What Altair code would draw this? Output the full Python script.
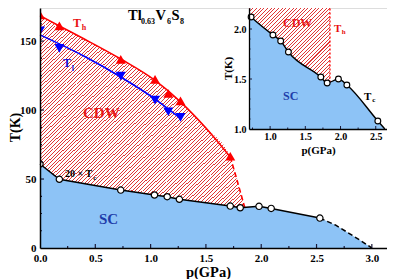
import altair as alt
import pandas as pd

# ---------------- data ----------------
# main panel: 20 x Tc (K) versus pressure (GPa)
tc_p = [0.0, 0.175, 0.73, 1.035, 1.15, 1.26, 1.72, 1.81, 1.98, 2.09, 2.53]
tc20 = [60.9, 49.8, 42.0, 38.4, 37.2, 35.3, 30.4, 29.2, 30.2, 28.7, 21.7]
tc_tail_p = [2.53, 2.67, 2.77, 2.89, 3.0]
tc_tail = [21.7, 16.7, 11.8, 5.8, 0.0]

# CDW onset T_h (up triangles) and its guide curve
th_p = [0.0, 0.175, 0.73, 1.04, 1.16, 1.27, 1.72]
th_T = [169.0, 161.0, 136.7, 122.2, 112.0, 106.7, 66.5]
th_fit_p = [0.0, 0.175, 0.4, 0.73, 1.04, 1.27, 1.5, 1.72]
th_fit_T = [168.5, 161.0, 151.5, 137.0, 121.5, 106.0, 87.0, 66.0]
th_tail_p = [1.72, 1.78, 1.85]
th_tail_T = [66.0, 49.5, 29.5]

# T_l (down triangles) and its guide curve
tl_p = [0.0, 0.175, 0.73, 1.04, 1.16, 1.27]
tl_T = [157.5, 144.7, 124.6, 107.2, 98.8, 94.7]
tl_fit_p = [0.0, 0.4, 0.73, 1.04, 1.27]
tl_fit_T = [154.5, 139.0, 124.0, 108.0, 94.0]

# inset: Tc (K) versus pressure
in_p = [0.73, 1.04, 1.15, 1.26, 1.72, 1.81, 1.97, 2.09, 2.53]
in_tc = [2.12, 1.94, 1.88, 1.77, 1.52, 1.46, 1.50, 1.44, 1.08]
in_line_p = [0.70] + in_p + [2.63]
in_line_tc = [2.14] + in_tc + [1.00]
in_th_p = 1.85          # CDW boundary in the inset
in_th_low = 1.465

# axis ranges / tick values
main_xdom = [0, 3.137]
main_ydom = [0, 174]
in_xdom = [0.7, 2.66]
in_ydom = [1.0, 2.21]
main_xticks = [0.0, 0.5, 1.0, 1.5, 2.0, 2.5, 3.0]
main_yticks = [0, 50, 100, 150]
main_xminor = [0.25, 0.75, 1.25, 1.75, 2.25, 2.75]
main_yminor = [12.5, 25, 37.5, 62.5, 75, 87.5, 112.5, 125, 137.5, 162.5]
in_xticks = [1.0, 1.5, 2.0, 2.5]
in_yticks = [1.0, 1.5, 2.0]
in_xminor = [0.75, 1.25, 1.75, 2.25]
in_yminor = [1.1, 1.2, 1.3, 1.4, 1.6, 1.7, 1.8, 1.9, 2.1, 2.2]

# ---------------- layout / style ----------------
W, H = 347, 240
IN_L, IN_R, IN_B = 209, 347, 121
FONT = "Liberation Serif"
BLUE_FILL = "#8dc3f6"
RED = "#ff0000"
TICK = "#1a1a3a"
PX_MAIN = W / (main_xdom[1] - main_xdom[0])
PX_IN = (IN_R - IN_L) / (in_xdom[1] - in_xdom[0])


def hatch(w, h, period=2.6, frac=0.28, color="#e03838"):
    k = w / (w * w + h * h)
    dt = k * period * 2 ** 0.5
    stops, t = [], 0.0
    while t < 1.0:
        b = min(t + frac * dt, 1.0)
        c = min(t + dt, 1.0)
        stops += [{"offset": round(t, 5), "color": color},
                  {"offset": round(b, 5), "color": color},
                  {"offset": round(b, 5), "color": "#ffffff"},
                  {"offset": round(c, 5), "color": "#ffffff"}]
        t += dt
    return {"gradient": "linear", "x1": 0, "y1": 0, "x2": 1, "y2": h / w, "stops": stops}


xs_main = alt.Scale(domain=main_xdom, nice=False, zero=False)
ys_main = alt.Scale(domain=main_ydom, nice=False, zero=False)
xs_in = alt.Scale(domain=in_xdom, range=[IN_L, IN_R], nice=False, zero=False)
ys_in = alt.Scale(domain=in_ydom, range=[IN_B, 0], nice=False, zero=False)

lab = dict(labelFont=FONT, labelFontWeight="bold", labelColor="black",
           titleFont=FONT, titleFontWeight="bold", titleColor="black",
           grid=False, ticks=False, tickSize=0, domainColor="black",
           labelFlush=False, labelOverlap=False, zindex=1)

ax_mx = alt.Axis(orient="bottom", values=main_xticks, format=".1f", labelFontSize=11,
                 labelPadding=4, domainWidth=1.5, title="p(GPa)", titleFontSize=14.5,
                 titleX=168, titleY=28, titleAlign="center", titleBaseline="alphabetic", **lab)
ax_my = alt.Axis(orient="left", values=main_yticks, format="d", labelFontSize=11,
                 labelPadding=4, domainWidth=1.5, title="T(K)", titleFontSize=14,
                 titleX=-25, titleY=119, titleAngle=270, titleAlign="center",
                 titleBaseline="middle", **lab)
ax_ix = alt.Axis(orient="bottom", offset=-(H - IN_B), values=in_xticks, format=".1f",
                 labelFontSize=10, labelPadding=2, domainWidth=1.3, title="p(GPa)",
                 titleFontSize=11, titleX=278, titleY=24, titleAlign="center",
                 titleBaseline="alphabetic", **lab)
ax_iy = alt.Axis(orient="left", offset=-IN_L, values=in_yticks, format=".1f",
                 labelFontSize=10, labelPadding=3, domainWidth=1.3, title="T(K)",
                 titleFontSize=11, titleX=-21, titleY=60, titleAngle=270,
                 titleAlign="center", titleBaseline="middle", **lab)


def MX(f): return alt.X(f, type="quantitative", scale=xs_main, axis=ax_mx)
def MY(f): return alt.Y(f, type="quantitative", scale=ys_main, axis=ax_my)
def IX(f): return alt.X(f, type="quantitative", scale=xs_in, axis=ax_ix)
def IY(f): return alt.Y(f, type="quantitative", scale=ys_in, axis=ax_iy)


# ---------------- main panel ----------------
th_area = pd.DataFrame({"p": th_fit_p + th_tail_p[1:], "T": th_fit_T + th_tail_T[1:]})
th_area["b"] = 0.0
tc_all = pd.DataFrame({"p": tc_p + tc_tail_p[1:], "T": tc20 + tc_tail[1:]})
tc_all["b"] = 0.0

hatch_main = alt.Chart(th_area).mark_area(
    interpolate="monotone", fill=hatch(max(th_tail_p) * PX_MAIN, H)
).encode(x=MX("p"), y=MY("T"), y2="b")
sc_area = alt.Chart(tc_all).mark_area(color=BLUE_FILL).encode(x=MX("p"), y=MY("T"), y2="b")

th_line = alt.Chart(pd.DataFrame({"p": th_fit_p, "T": th_fit_T})).mark_line(
    interpolate="monotone", color=RED, strokeWidth=1.6).encode(x=MX("p"), y=MY("T"))
th_dash = alt.Chart(pd.DataFrame({"p": th_tail_p, "T": th_tail_T})).mark_line(
    interpolate="monotone", color=RED, strokeWidth=1.6, strokeDash=[5, 3]).encode(x=MX("p"), y=MY("T"))
tl_line = alt.Chart(pd.DataFrame({"p": tl_fit_p, "T": tl_fit_T})).mark_line(
    interpolate="monotone", color="#0000ff", strokeWidth=1.6).encode(x=MX("p"), y=MY("T"))
tc_line = alt.Chart(pd.DataFrame({"p": tc_p, "T": tc20})).mark_line(
    color="black", strokeWidth=1.5).encode(x=MX("p"), y=MY("T"))
tc_dash = alt.Chart(pd.DataFrame({"p": tc_tail_p, "T": tc_tail})).mark_line(
    color="black", strokeWidth=1.5, strokeDash=[5, 3]).encode(x=MX("p"), y=MY("T"))

th_pts = alt.Chart(pd.DataFrame({"p": th_p, "T": th_T})).mark_point(
    shape="triangle-up", filled=True, color=RED, size=100, opacity=1, clip=True
).encode(x=MX("p"), y=MY("T"))
tl_pts = alt.Chart(pd.DataFrame({"p": tl_p, "T": tl_T})).mark_point(
    shape="triangle-down", filled=True, color="#0000ff", size=100, opacity=1, clip=True
).encode(x=MX("p"), y=MY("T"))
tc_pts = alt.Chart(pd.DataFrame({"p": tc_p, "T": tc20})).mark_point(
    shape="circle", filled=True, fill="white", stroke="black", strokeWidth=1.2,
    size=40, opacity=1, clip=True).encode(x=MX("p"), y=MY("T"))


def texts(rows, size, color, xf, yf):
    df = pd.DataFrame(rows, columns=["t", "p", "T"])
    return alt.Chart(df).mark_text(align="left", baseline="alphabetic", font=FONT,
                                   fontWeight="bold", fontSize=size, color=color
                                   ).encode(x=xf("p"), y=yf("T"), text="t")


main_txt = [
    texts([("Tl", 0.796, 165.6), ("V", 1.045, 165.6), ("S", 1.189, 165.6)], 14.5, "black", MX, MY),
    texts([("0.63", 0.913, 162.2), ("6", 1.148, 162.2), ("8", 1.266, 162.2)], 8, "black", MX, MY),
    texts([("T", 0.298, 160.2)], 12, "#e81010", MX, MY),
    texts([("h", 0.377, 158.1)], 8, "#e81010", MX, MY),
    texts([("CDW", 0.389, 94.25)], 15, "#e81818", MX, MY),
    texts([("T", 0.208, 131.2)], 12, "#1010e0", MX, MY),
    texts([("l", 0.287, 128.3)], 8, "#1010e0", MX, MY),
    texts([("20 × T", 0.226, 51.5)], 10, "black", MX, MY),
    texts([("c", 0.481, 49.3)], 7, "black", MX, MY),
    texts([("SC", 0.533, 17.4)], 15, "#1e3caa", MX, MY),
]

mx_major = alt.Chart(pd.DataFrame({"v": main_xticks[1:]})).mark_rule(color=TICK, strokeWidth=1.2).encode(
    x=MX("v"), y=alt.value(H), y2=alt.value(H - 4))
mx_minor = alt.Chart(pd.DataFrame({"v": main_xminor})).mark_rule(color=TICK, strokeWidth=1.2).encode(
    x=MX("v"), y=alt.value(H), y2=alt.value(H - 2))
my_major = alt.Chart(pd.DataFrame({"v": main_yticks[1:]})).mark_rule(color=TICK, strokeWidth=1.2).encode(
    y=MY("v"), x=alt.value(0), x2=alt.value(4))
my_minor = alt.Chart(pd.DataFrame({"v": main_yminor})).mark_rule(color=TICK, strokeWidth=1.2).encode(
    y=MY("v"), x=alt.value(0), x2=alt.value(2))

main = alt.layer(hatch_main, sc_area, th_line, th_dash, tl_line, tc_line, tc_dash,
                 th_pts, tl_pts, tc_pts, *main_txt, mx_major, mx_minor, my_major, my_minor)

# ---------------- inset ----------------
in_rect = pd.DataFrame({"x0": [in_xdom[0]], "x1": [in_th_p], "y0": [in_ydom[0]], "y1": [in_ydom[1]]})
hatch_in = alt.Chart(in_rect).mark_rect(
    fill=hatch((in_th_p - in_xdom[0]) * PX_IN, IN_B)
).encode(x=IX("x0"), x2="x1", y=IY("y0"), y2="y1")

in_line_df = pd.DataFrame({"p": in_line_p, "T": in_line_tc})
in_line_df["b"] = in_ydom[0]
in_area = alt.Chart(in_line_df).mark_area(interpolate="monotone", color=BLUE_FILL).encode(
    x=IX("p"), y=IY("T"), y2="b")
in_th = alt.Chart(pd.DataFrame({"p": [in_th_p], "lo": [in_th_low], "hi": [in_ydom[1]]})).mark_rule(
    color=RED, strokeWidth=1.3, strokeDash=[2, 2]).encode(x=IX("p"), y=IY("lo"), y2="hi")
in_line = alt.Chart(in_line_df).mark_line(interpolate="monotone", color="black", strokeWidth=1.4).encode(
    x=IX("p"), y=IY("T"))
in_pts = alt.Chart(pd.DataFrame({"p": in_p, "T": in_tc})).mark_point(
    shape="circle", filled=True, fill="white", stroke="black", strokeWidth=1.1,
    size=34, opacity=1).encode(x=IX("p"), y=IY("T"))

in_txt = [
    texts([("CDW", 1.183, 2.02)], 12, "#e81818", IX, IY),
    texts([("T", 1.908, 1.97)], 11, "#e81010", IX, IY),
    texts([("h", 2.016, 1.95)], 7, "#e81010", IX, IY),
    texts([("SC", 1.183, 1.29)], 12, "#1e3caa", IX, IY),
    texts([("T", 2.334, 1.29)], 11, "black", IX, IY),
    texts([("c", 2.450, 1.27)], 7, "black", IX, IY),
]

ix_major = alt.Chart(pd.DataFrame({"v": in_xticks})).mark_rule(color=TICK, strokeWidth=1).encode(
    x=IX("v"), y=alt.value(IN_B), y2=alt.value(IN_B - 3))
ix_minor = alt.Chart(pd.DataFrame({"v": in_xminor})).mark_rule(color=TICK, strokeWidth=1).encode(
    x=IX("v"), y=alt.value(IN_B), y2=alt.value(IN_B - 1.5))
iy_major = alt.Chart(pd.DataFrame({"v": in_yticks[1:]})).mark_rule(color=TICK, strokeWidth=1).encode(
    y=IY("v"), x=alt.value(IN_L), x2=alt.value(IN_L + 3))
iy_minor = alt.Chart(pd.DataFrame({"v": in_yminor})).mark_rule(color=TICK, strokeWidth=1).encode(
    y=IY("v"), x=alt.value(IN_L), x2=alt.value(IN_L + 1.5))

inset = alt.layer(hatch_in, in_area, in_th, in_line, in_pts, *in_txt,
                  ix_major, ix_minor, iy_major, iy_minor)

chart = alt.layer(main, inset).resolve_scale(x="independent", y="independent").properties(
    width=W, height=H,
    padding={"left": 32, "top": 0, "right": 0, "bottom": 31},
    autosize=alt.AutoSizeParams(type="none"),
).configure_view(stroke="black", strokeWidth=1.5).configure(background="white")

chart.save("out.html", embed_options={"renderer": "svg", "actions": False})
